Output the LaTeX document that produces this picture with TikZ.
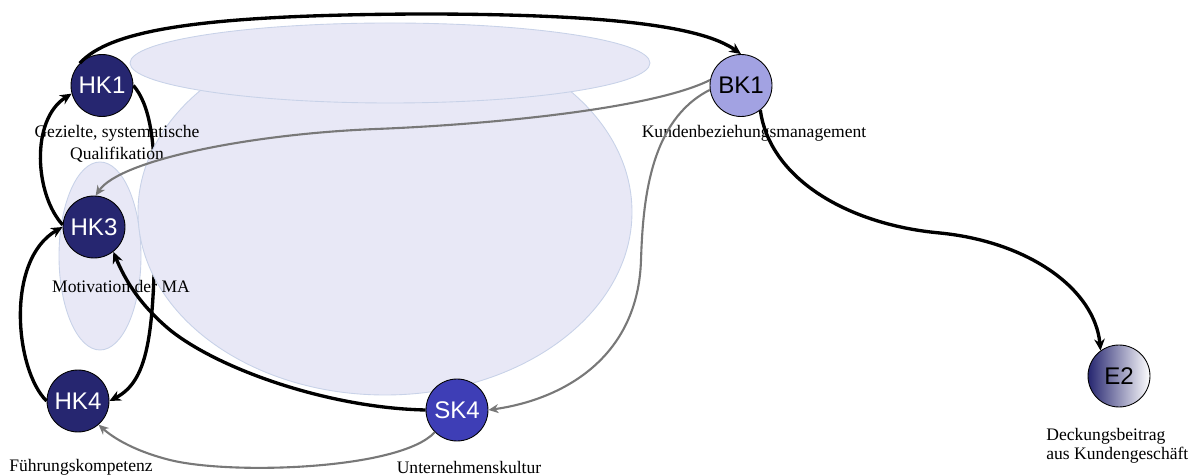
\documentclass[tikz,border=0pt]{standalone}
\usepackage{fontspec}
\setmainfont{Liberation Serif}
\newfontfamily\nodefont{Liberation Sans}
\usetikzlibrary{arrows.meta}
\pgfdeclarelayer{bottom}
\pgfdeclarelayer{background}
\pgfsetlayers{bottom,background,main}
\definecolor{hkc}{RGB}{38,38,112}
\definecolor{skc}{RGB}{62,62,182}
\definecolor{bkc}{RGB}{162,162,226}
\definecolor{ellfill}{RGB}{232,232,246}
\definecolor{elldraw}{RGB}{200,210,232}
\definecolor{grayline}{RGB}{120,120,120}
\begin{document}
\begin{tikzpicture}[x=0.02cm,y=-0.02cm,
 knot/.style={circle,draw=black,line width=0.5pt,minimum size=1.24cm,inner sep=0pt,
   font=\nodefont\fontsize{13.7}{16}\selectfont},
 hknode/.style={knot,fill=hkc,text=white},
 caplabel/.style={font=\fontsize{10}{12.5}\selectfont,align=center,inner sep=0pt},
 blk/.style={line width=1.9pt,-{Stealth[length=2.3mm,width=2.1mm]}},
 gry/.style={line width=1.2pt,draw=grayline,-{Stealth[length=2mm,width=1.8mm]}},
 bubble/.style={fill=ellfill,draw=elldraw,line width=0.5pt}]
\useasboundingbox (0,0) rectangle (1197,475);

% nodes
\node[hknode] (HK1) at (102,85.5) {HK1};
\node[hknode] (HK3) at (94,227) {HK3};
\node[hknode] (HK4) at (78,401) {HK4};
\node[knot,fill=skc,text=white] (SK4) at (457,410) {SK4};
\node[knot,fill=bkc,text=black] (BK1) at (741,85.5) {BK1};
\node[knot,left color=hkc,right color=white,text=black] (E2) at (1119,376) {E2};

% captions
\node[caplabel] (cHK1) at (117,144) {Gezielte, systematische\\Qualifikation};
\node[caplabel] (cHK3) at (121,286) {Motivation der MA};
\node[caplabel] (cHK4) at (81,467) {Führungskompetenz};
\node[caplabel] (cSK4) at (469,467) {Unternehmenskultur};
\node[caplabel] (cBK1) at (754,133) {Kundenbeziehungsmanagement};
\node[caplabel,align=left,anchor=west,font=\fontsize{10}{10.6}\selectfont] (cE2) at (1046,446) {Deckungsbeitrag\\aus Kundengeschäft};

% background bubbles
\begin{pgfonlayer}{background}
\draw[bubble] (100,256) ellipse [x radius=41, y radius=94];
\draw[bubble] (385,212) ellipse [x radius=247, y radius=183];
\draw[bubble] (390,63) ellipse [x radius=260, y radius=40];
\end{pgfonlayer}

% edge hidden under the bubbles
\begin{pgfonlayer}{bottom}
\draw[blk] (HK1.0) .. controls (150,105) and (155,140) .. (155,200)
  .. controls (155,330) and (150,380) .. (HK4.0);
\end{pgfonlayer}

% black edges
\draw[blk] (HK1.135) .. controls (110,30) and (200,15) .. (420,14)
  .. controls (600,14) and (700,25) .. (BK1.90);
\draw[blk] (HK3.176) .. controls (35,195) and (30,120) .. (HK1.195);
\draw[blk] (HK4.180) .. controls (15,370) and (5,260) .. (HK3.180);
\draw[blk] (SK4.180) .. controls (330,408) and (220,370) .. (170,330)
  .. controls (140,305) and (125,280) .. (HK3.-52);
\draw[blk] (BK1.-52) .. controls (770,180) and (850,225) .. (940,233)
  .. controls (1030,242) and (1095,290) .. (E2.126);

% gray edges
\draw[gry] (BK1.170) .. controls (650,110) and (480,125) .. (376,129)
  .. controls (250,134) and (120,160) .. (HK3.87);
\draw[gry] (BK1.188) .. controls (650,120) and (643,200) .. (641,260)
  .. controls (638,360) and (560,400) .. (SK4.0);
\draw[gry] (SK4.-135) .. controls (400,470) and (230,475) .. (170,460)
  .. controls (130,450) and (110,435) .. (HK4.-49);
\end{tikzpicture}
\end{document}
